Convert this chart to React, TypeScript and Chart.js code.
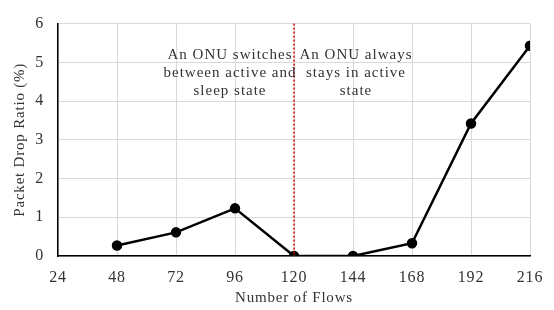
import React, { useEffect, useRef } from "react";
import { Chart, registerables } from "chart.js";

Chart.register(...registerables);

const flows = [48, 72, 96, 120, 144, 168, 192, 216];
const dropRatio = [0.27, 0.61, 1.23, 0, 0, 0.33, 3.42, 5.43];
const xTicks = [24, 48, 72, 96, 120, 144, 168, 192, 216];
const yTicks = [0, 1, 2, 3, 4, 5, 6];
const dividerAt = 120;
const leftNote = ["An ONU switches", "between active and", "sleep state"];
const rightNote = ["An ONU always", "stays in active", "state"];

const FONT = "'Liberation Serif', 'Times New Roman', serif";

const spacingPlugin = {
  id: "spacing",
  beforeDraw(chart: any) {
    chart.ctx.letterSpacing = "0.8px";
  },
};

const notePlugin = {
  id: "notes",
  afterDatasetsDraw(chart: any) {
    const { ctx, chartArea, scales } = chart;
    const x = scales.x.getPixelForValue(dividerAt);
    ctx.save();
    ctx.strokeStyle = "#e00000";
    ctx.lineWidth = 1.5;
    ctx.setLineDash([2, 2]);
    ctx.beginPath();
    ctx.moveTo(x, chartArea.top);
    ctx.lineTo(x, chartArea.bottom);
    ctx.stroke();
    ctx.setLineDash([]);
    ctx.fillStyle = "#333";
    ctx.font = `15px ${FONT}`;
    ctx.letterSpacing = "1px";
    ctx.textAlign = "center";
    ctx.textBaseline = "middle";
    const y0 = scales.y.getPixelForValue(5.2);
    leftNote.forEach((t, i) => ctx.fillText(t, x - 64, y0 + i * 18));
    rightNote.forEach((t, i) => ctx.fillText(t, x + 62, y0 + i * 18));
    ctx.restore();
  },
};

export default function App() {
  const ref = useRef<HTMLCanvasElement>(null);
  useEffect(() => {
    document.body.style.margin = "0";
    const chart = new Chart(ref.current!, {
      type: "line",
      data: {
        datasets: [
          {
            data: flows.map((f, i) => ({ x: f, y: dropRatio[i] })),
            borderColor: "#000",
            backgroundColor: "#000",
            borderWidth: 2.5,
            pointRadius: 4,
            pointBackgroundColor: "#000",
            tension: 0,
          },
        ],
      },
      options: {
        animation: false,
        responsive: false,
        layout: { padding: { left: 0, right: 15, top: 16, bottom: 0 } },
        plugins: { legend: { display: false }, tooltip: { enabled: false } },
        scales: {
          x: {
            type: "linear",
            min: 24,
            max: 216,
            afterFit: (s: any) => { s.height = 54; },
            afterBuildTicks: (s: any) => { s.ticks = xTicks.map((v) => ({ value: v })); },
            ticks: { color: "#333", font: { family: FONT, size: 16 }, padding: 12, maxRotation: 0 },
            grid: { color: "#d9d9d9", drawTicks: false, lineWidth: 1 },
            border: { color: "#000", width: 1.5 },
            title: { display: true, text: "Number of Flows", color: "#333", font: { family: FONT, size: 15 }, padding: { top: 0, bottom: 3 } },
          },
          y: {
            min: 0,
            max: 6,
            afterFit: (s: any) => { s.width = 58; },
            afterBuildTicks: (s: any) => { s.ticks = yTicks.map((v) => ({ value: v })); },
            ticks: { color: "#333", font: { family: FONT, size: 16 }, padding: 14 },
            grid: { color: "#d9d9d9", drawTicks: false, lineWidth: 1 },
            border: { color: "#000", width: 1.5 },
            title: { display: true, text: "Packet Drop Ratio (%)", color: "#333", font: { family: FONT, size: 15 }, padding: { top: 11, bottom: 0 } },
          },
        },
      },
      plugins: [spacingPlugin, notePlugin],
    });
    return () => chart.destroy();
  }, []);
  return <canvas ref={ref} width={554} height={310} style={{ display: "block" }} />;
}
